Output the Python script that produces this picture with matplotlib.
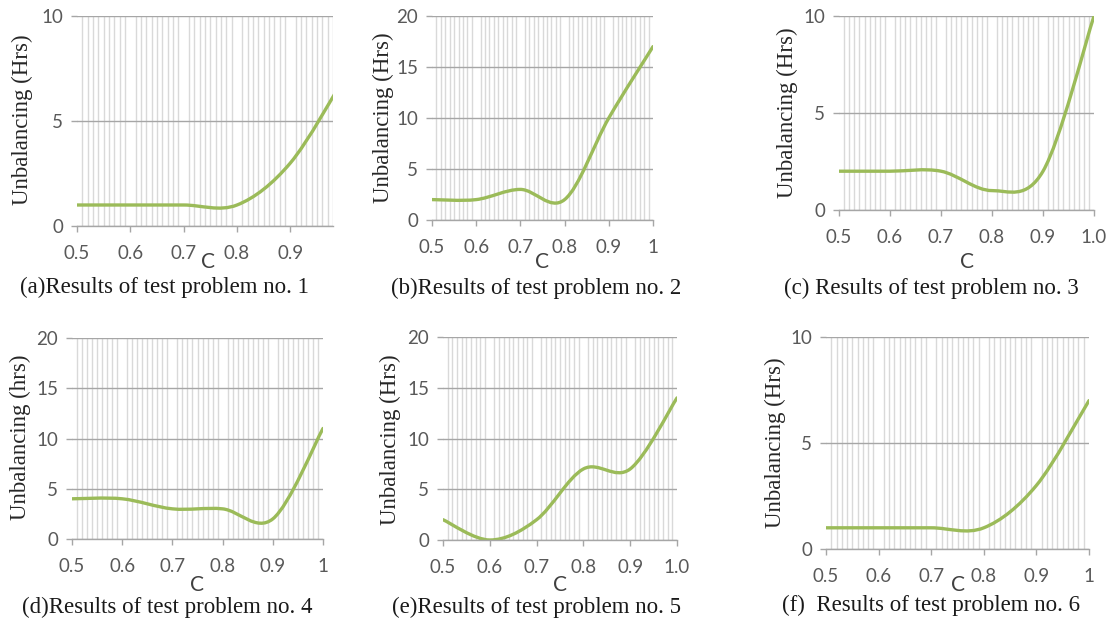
import numpy as np
import matplotlib
matplotlib.use('Agg')
import matplotlib.pyplot as plt
from matplotlib.path import Path
from matplotlib.patches import PathPatch

W, H = 1112, 624

# data (C values every 0.1)
c_vals = [0.5, 0.6, 0.7, 0.8, 0.9, 1.0]
unbal_1 = [1, 1, 1, 1, 3, 7]
unbal_2 = [2, 2, 3, 2, 10, 17]
unbal_3 = [2, 2, 2, 1, 2, 10]
unbal_4 = [4, 4, 3, 3, 2, 11]
unbal_5 = [2, 0, 2, 7, 7, 14]
unbal_6 = [1, 1, 1, 1, 3, 7]

y_ticks_10 = [0, 5, 10]
y_ticks_20 = [0, 5, 10, 15, 20]
x_ticks_a = [0.5, 0.6, 0.7, 0.8, 0.9]
x_labels_a = ['0.5', '0.6', '0.7', '0.8', '0.9']
x_ticks = [0.5, 0.6, 0.7, 0.8, 0.9, 1.0]
x_labels_1 = ['0.5', '0.6', '0.7', '0.8', '0.9', '1']
x_labels_10 = ['0.5', '0.6', '0.7', '0.8', '0.9', '1.0']

ylab_Hrs = 'Unbalancing (Hrs)'
ylab_hrs = 'Unbalancing (hrs)'
captions = ['(a)Results of test problem no. 1',
            '(b)Results of test problem no. 2',
            '(c) Results of test problem no. 3',
            '(d)Results of test problem no. 4',
            '(e)Results of test problem no. 5',
            '(f)  Results of test problem no. 6']

# panel layout in pixels: axes box (left, top, right, bottom),
# y label centre, "C" centre, caption centre
panels = [
    dict(y=unbal_1, box=(77, 16, 333, 226), xmax=0.975, yt=y_ticks_10, xt=x_ticks_a, xl=x_labels_a,
         ylab=ylab_Hrs, ylpos=(22, 120), cpos=(208, 262), cap=(164, 287)),
    dict(y=unbal_2, box=(432, 16, 653, 220), xmax=1.0, yt=y_ticks_20, xt=x_ticks, xl=x_labels_1,
         ylab=ylab_Hrs, ylpos=(383, 118), cpos=(542, 262), cap=(536, 288)),
    dict(y=unbal_3, box=(839, 16, 1094, 210), xmax=1.0, yt=y_ticks_10, xt=x_ticks, xl=x_labels_10,
         ylab=ylab_Hrs, ylpos=(787, 113), cpos=(967, 262), cap=(931, 288)),
    dict(y=unbal_4, box=(72, 338, 323, 539), xmax=1.0, yt=y_ticks_20, xt=x_ticks, xl=x_labels_1,
         ylab=ylab_hrs, ylpos=(20, 437), cpos=(197, 585), cap=(167, 607)),
    dict(y=unbal_5, box=(443, 337, 677, 540), xmax=1.0, yt=y_ticks_20, xt=x_ticks, xl=x_labels_10,
         ylab=ylab_Hrs, ylpos=(390, 440), cpos=(560, 585), cap=(537, 607)),
    dict(y=unbal_6, box=(826, 337, 1089, 549), xmax=1.0, yt=y_ticks_10, xt=x_ticks, xl=x_labels_1,
         ylab=ylab_Hrs, ylpos=(775, 443), cpos=(958, 585), cap=(931, 605)),
]

GREEN = '#9bbb59'
serif = ['Liberation Serif', 'DejaVu Serif']
sans = ['Lato', 'DejaVu Sans']


def smooth_path(xs, ys):
    # excel-like smoothed line: catmull-rom segments as cubic beziers
    pts = np.column_stack([xs, ys]).astype(float)
    ext = np.vstack([pts[0], pts, pts[-1]])
    verts = [pts[0]]
    codes = [Path.MOVETO]
    for i in range(1, len(ext) - 2):
        p0, p1, p2, p3 = ext[i - 1], ext[i], ext[i + 1], ext[i + 2]
        verts += [p1 + (p2 - p0) / 6, p2 - (p3 - p1) / 6, p2]
        codes += [Path.CURVE4] * 3
    return Path(verts, codes)


fig = plt.figure(figsize=(W / 100, H / 100), dpi=100)

for k, p in enumerate(panels):
    l, t, r, b = p['box']
    ax = fig.add_axes([l / W, 1 - b / H, (r - l) / W, (b - t) / H])
    ax.set_xlim(0.5, p['xmax'])
    ax.set_ylim(0, p['yt'][-1])
    for s in ['top', 'right', 'left']:
        ax.spines[s].set_visible(False)
    ax.spines['bottom'].set_color('#a6a6a6')
    ax.spines['bottom'].set_linewidth(1.0)

    ax.set_xticks(p['xt'])
    ax.set_xticklabels(p['xl'])
    ax.set_xticks(np.arange(50, int(round(p['xmax'] * 100)) + 1) / 100, minor=True)
    ax.set_yticks(p['yt'])
    ax.tick_params(axis='x', which='minor', length=0)
    ax.tick_params(axis='both', which='major', length=4, width=1, color='#a6a6a6',
                   labelsize=13.5, labelcolor='#595959')
    ax.tick_params(axis='x', pad=10)
    ax.tick_params(axis='y', pad=6)
    for lab in ax.get_xticklabels() + ax.get_yticklabels():
        lab.set_family(sans)

    ax.grid(True, axis='x', which='minor', color='#d9d9d9', linewidth=1.0)
    ax.grid(True, axis='y', which='major', color='#a6a6a6', linewidth=1.0)
    ax.set_axisbelow(True)

    ax.add_patch(PathPatch(smooth_path(c_vals, p['y']), facecolor='none',
                           edgecolor=GREEN, linewidth=2.4, capstyle='round'))

    fig.text(p['ylpos'][0] / W, 1 - p['ylpos'][1] / H, p['ylab'], rotation=90,
             ha='center', va='center', fontsize=16.5, family=serif, color='#262626')
    fig.text(p['cpos'][0] / W, 1 - p['cpos'][1] / H, 'C', ha='center', va='center',
             fontsize=15, family=sans, color='#404040')
    fig.text(p['cap'][0] / W, 1 - p['cap'][1] / H, captions[k],
             ha='center', va='center', fontsize=16.5, family=serif, color='#1a1a1a')

fig.savefig('out.png', dpi=100)
